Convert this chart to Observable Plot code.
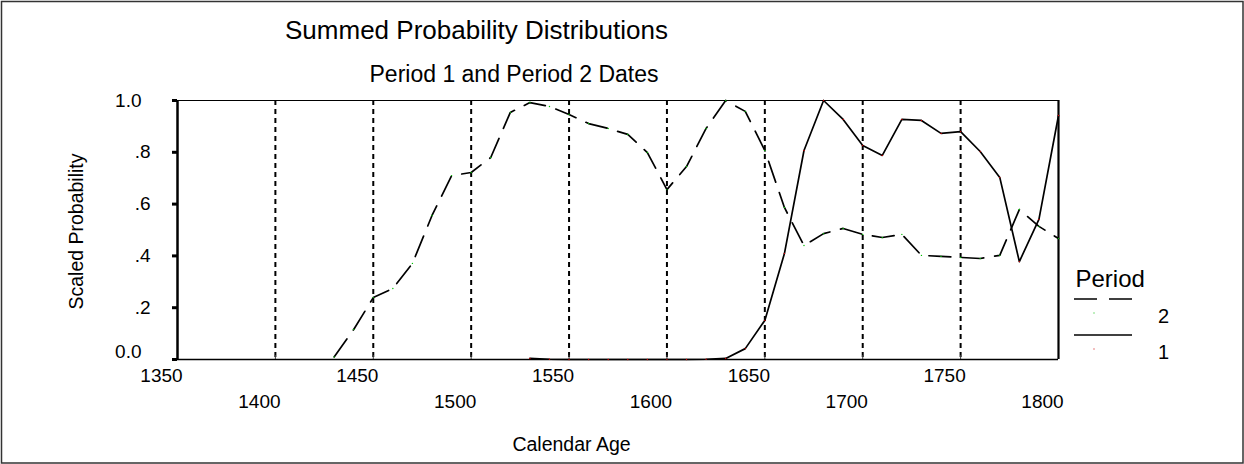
<!DOCTYPE html>
<html><head><meta charset="utf-8">
<script src="https://cdn.jsdelivr.net/npm/d3@7"></script>
<script src="https://cdn.jsdelivr.net/npm/@observablehq/plot@0.6"></script>
<style>body{margin:0;background:#fff} #chart svg{display:block}</style>
</head><body><div id="chart"></div>
<script>
// ---- data ----
const period2Years = [1430,1440,1450,1460,1470,1480,1490,1500,1510,1520,1530,1540,1550,1560,1570,1580,1590,1600,1610,1620,1630,1640,1650,1660,1670,1680,1690,1700,1710,1720,1730,1740,1750,1760,1770,1780,1790,1800];
const period2Values = [0.01,0.116,0.239,0.274,0.371,0.556,0.710,0.722,0.780,0.954,0.992,0.977,0.946,0.911,0.892,0.869,0.799,0.656,0.745,0.892,1.0,0.958,0.807,0.587,0.440,0.486,0.506,0.483,0.471,0.483,0.402,0.398,0.394,0.390,0.402,0.579,0.514,0.467];
const period1Years = [1530,1540,1550,1560,1570,1580,1590,1600,1610,1620,1630,1640,1650,1660,1670,1680,1690,1700,1710,1720,1730,1740,1750,1760,1770,1780,1790,1800];
const period1Values = [0.004,0.001,0,0,0,0,0,0,0,0.001,0.004,0.042,0.151,0.409,0.807,1.0,0.927,0.826,0.788,0.927,0.923,0.873,0.880,0.803,0.703,0.378,0.541,0.942];
const gridYears = [1400,1450,1500,1550,1600,1650,1700,1750];
const upperTickLabels = [1350,1450,1550,1650,1750];
const lowerTickLabels = [1400,1500,1600,1700,1800];
const yTicks = [0,0.2,0.4,0.6,0.8,1.0];
const yMidTicks = [0.2,0.4,0.6,0.8];
const yEndTicks = [1.0];
const yZeroTick = [0];
const legendItems = [{label:"2", dash:"23,12", dot:"#00c000"},{label:"1", dash:null, dot:"#d00000"}];
const titleText = "Summed Probability Distributions";
const subtitleText = "Period 1 and Period 2 Dates";
const xLabel = "Calendar Age";
const yLabel = "Scaled Probability";
const legendTitle = "Period";

const p2 = period2Years.map((x,i)=>({x, y: period2Values[i]}));
const p1 = period1Years.map((x,i)=>({x, y: period1Values[i]}));
const fmtY = d => d === 0 ? "0.0" : d === 1 ? "1.0" : d3.format(".1f")(d).replace(/^0/, "");

const T = {lineAnchor: "middle"};
const W = 1244, H = 464;
const chart = Plot.plot({
  width: W, height: H,
  marginLeft: 177, marginRight: 186, marginTop: 100, marginBottom: 105,
  x: {domain: [1350, 1800], axis: null},
  y: {domain: [0, 1]},
  style: {fontFamily: '"Liberation Sans", Arial, sans-serif', fontSize: "19px", color: "#000", background: "#fff", overflow: "visible"},
  marks: [
    Plot.ruleX(gridYears, {x: d => d, stroke: "#000", strokeWidth: 2, strokeDasharray: "5,4"}),
    Plot.tickX(gridYears, {x: d => d, stroke: "#444", strokeWidth: 1, insetTop: 255}),
    Plot.ruleY([1], {y: d => d, stroke: "#000", strokeWidth: 1.2}),
    Plot.ruleX([1800], {x: d => d, stroke: "#000", strokeWidth: 2.2}),
    Plot.ruleY([0], {y: d => d, stroke: "#000", strokeWidth: 1.6}),
    Plot.ruleX([1350], {x: d => d, stroke: "#000", strokeWidth: 2.5}),
    Plot.axisY({ticks: yTicks, tickSize: 5, strokeWidth: 3, tickFormat: () => "", label: null}),
    Plot.text(yMidTicks, {...T, y: d => d, frameAnchor: "left", text: fmtY, textAnchor: "end", dx: -27, fontSize: 19}),
    Plot.text(yEndTicks, {...T, y: d => d, frameAnchor: "left", text: fmtY, textAnchor: "end", dx: -36, fontSize: 19}),
    Plot.text(yZeroTick, {...T, y: d => d, frameAnchor: "left", text: fmtY, textAnchor: "end", dx: -36, dy: -8, fontSize: 19}),
    Plot.text(upperTickLabels, {...T, x: d => d, frameAnchor: "bottom", text: d => String(d), textAnchor: "middle", dx: -16, dy: 16, fontSize: 19}),
    Plot.text(lowerTickLabels, {...T, x: d => d, frameAnchor: "bottom", text: d => String(d), textAnchor: "middle", dx: -16, dy: 42, fontSize: 19}),
    Plot.line(p2, {x: "x", y: "y", stroke: "#000", strokeWidth: 1.7, strokeDasharray: "22,11"}),
    Plot.line(p1, {x: "x", y: "y", stroke: "#000", strokeWidth: 1.7}),
    Plot.dot(p2, {x: "x", y: "y", r: 0.7, fill: "#00c000"}),
    Plot.dot(p1, {x: "x", y: "y", r: 0.7, fill: "#d00000"}),
    Plot.text([titleText], {...T, frameAnchor: "top-left", text: d => d, textAnchor: "middle", dx: 299, dy: -70, fontSize: 26}),
    Plot.text([subtitleText], {...T, frameAnchor: "top-left", text: d => d, textAnchor: "middle", dx: 336.5, dy: -25.7, fontSize: 23}),
    Plot.text([xLabel], {...T, frameAnchor: "bottom", text: d => d, textAnchor: "middle", dx: -46.5, dy: 84.8, fontSize: 19.5}),
    Plot.text([yLabel], {...T, frameAnchor: "left", text: d => d, textAnchor: "middle", rotate: -90, dx: -101, dy: 1.5, fontSize: 19.5}),
    Plot.text([legendTitle], {...T, frameAnchor: "top-right", text: d => d, textAnchor: "start", dx: 17, dy: 179.3, fontSize: 24})
  ]
});
document.getElementById("chart").append(chart);

// legend samples and outer border
const svg = d3.select(chart);
const lg = svg.append("g").attr("font-family", '"Liberation Sans", Arial, sans-serif');
legendItems.forEach((it, i) => {
  const y = 299 + i * 36;
  lg.append("line").attr("x1", 1074).attr("x2", 1132).attr("y1", y).attr("y2", y)
    .attr("stroke", "#000").attr("stroke-width", 1.7)
    .attr("stroke-dasharray", it.dash);
  lg.append("rect").attr("x", 1093.5).attr("y", y + 13.5).attr("width", 1).attr("height", 1).attr("fill", it.dot);
  lg.append("text").attr("x", 1163.5).attr("y", y + 24).attr("text-anchor", "middle")
    .attr("font-size", 20).text(it.label);
});
svg.append("rect").attr("x", 1.5).attr("y", 1.5).attr("width", W - 2.5).attr("height", H - 2.5)
  .attr("fill", "none").attr("stroke", "#333").attr("stroke-width", 1.5);
</script>
</body></html>
